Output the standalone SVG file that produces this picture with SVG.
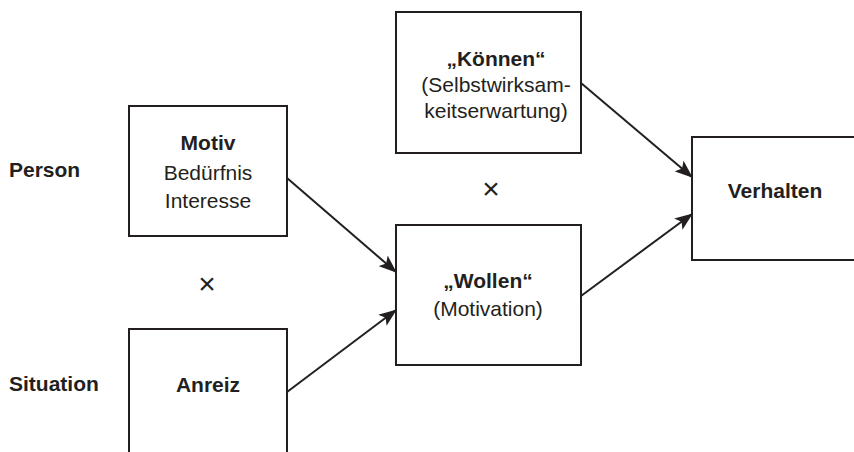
<svg xmlns="http://www.w3.org/2000/svg" width="854" height="452" viewBox="0 0 854 452">
<style>
text{font-family:"Liberation Sans",Arial,sans-serif;font-size:21px;fill:#231f20;text-anchor:middle}
.b{font-weight:bold}
.l{text-anchor:start}
.x{font-size:30px}
.box{fill:#fff;stroke:#231f20;stroke-width:2}
.c{stroke:#231f20;stroke-width:2;fill:none;marker-end:url(#ah)}
</style>
<defs>
<marker id="ah" markerUnits="userSpaceOnUse" markerWidth="18" markerHeight="14" viewBox="0 0 18 14" refX="17" refY="7" orient="auto">
<path d="M0,0 L18,7 L0,14 L4,7 Z" fill="#231f20"/>
</marker>
</defs>
<rect width="854" height="452" fill="#fff"/>
<g id="label-person"><text class="b l" x="9" y="177">Person</text></g>
<g id="label-situation"><text class="b l" x="9" y="391">Situation</text></g>
<g id="motiv">
<rect class="box" x="129" y="106" width="158" height="130"/>
<text class="b" x="208" y="150">Motiv</text>
<text x="208" y="180">Bedürfnis</text>
<text x="208" y="208">Interesse</text>
</g>
<g id="times1"><text class="x" x="207" y="294">×</text></g>
<g id="anreiz">
<rect class="box" x="129" y="329" width="158" height="140"/>
<text class="b" x="208" y="392">Anreiz</text>
</g>
<g id="koennen">
<rect class="box" x="396" y="12" width="185" height="141"/>
<text class="b" x="496" y="66">„Können“</text>
<text x="496" y="92">(Selbstwirksam-</text>
<text x="496" y="118">keitserwartung)</text>
</g>
<g id="times2"><text class="x" x="491" y="199">×</text></g>
<g id="wollen">
<rect class="box" x="396" y="225" width="185" height="140"/>
<text class="b" x="488" y="288">„Wollen“</text>
<text x="488" y="316">(Motivation)</text>
</g>
<g id="verhalten">
<rect class="box" x="692" y="137" width="200" height="123"/>
<text class="b" x="775" y="198">Verhalten</text>
</g>
<g id="connectors">
<line class="c" x1="287" y1="178" x2="396" y2="272"/>
<line class="c" x1="287" y1="392" x2="396" y2="310"/>
<line class="c" x1="581" y1="83" x2="692" y2="177"/>
<line class="c" x1="581" y1="296" x2="692" y2="214"/>
</g>
</svg>
